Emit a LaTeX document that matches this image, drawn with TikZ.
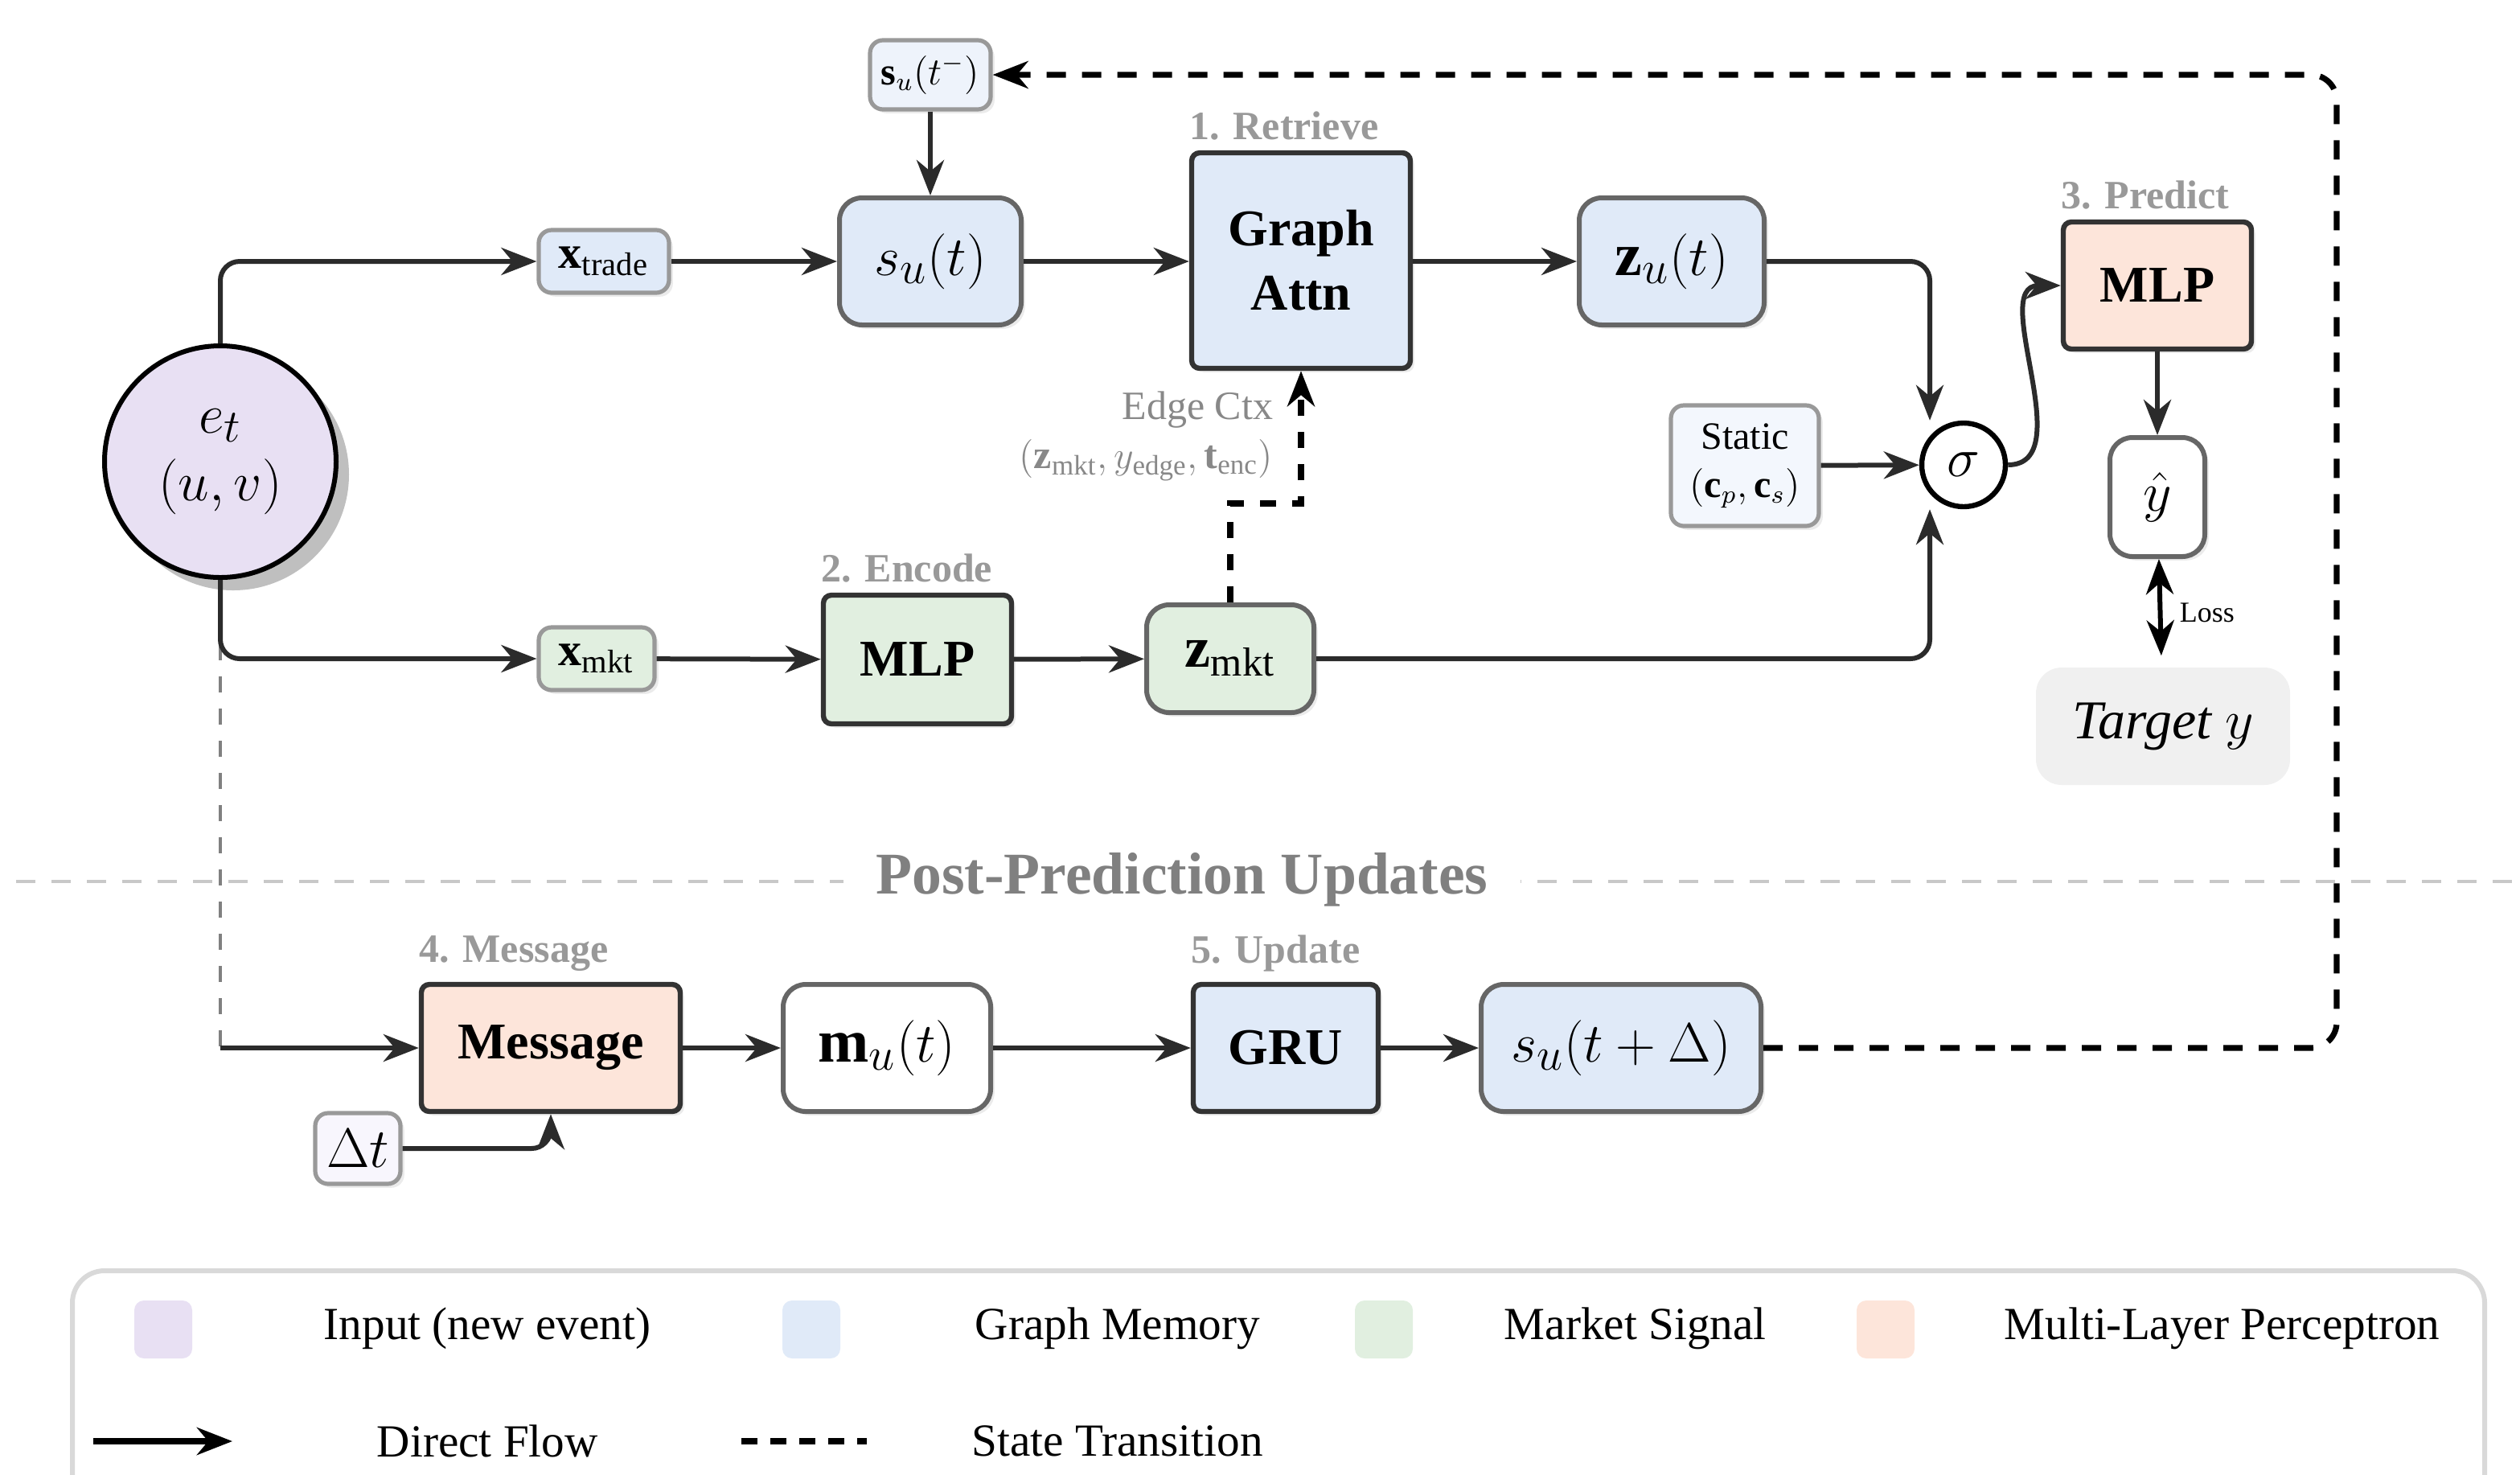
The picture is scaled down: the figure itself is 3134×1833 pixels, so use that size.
\documentclass[tikz,border=0pt]{standalone}
\usepackage{amsmath}
\usepackage{fontspec}
\setmainfont{Liberation Serif}
\usepackage{tikz}
\usetikzlibrary{arrows.meta,shadows,calc}
\usepackage{xcolor}
\definecolor{evpurple}{HTML}{E8E0F3}
\definecolor{memblue}{HTML}{E0EAF8}
\definecolor{paleblue}{HTML}{EEF3FB}
\definecolor{staticblue}{HTML}{F3F7FD}
\definecolor{mktgreen}{HTML}{E1EFE0}
\definecolor{mlppeach}{HTML}{FDE5DA}
\definecolor{dtlilac}{HTML}{F8F6FD}
\definecolor{edgedark}{HTML}{333333}
\definecolor{edgemid}{HTML}{666666}
\definecolor{edgelight}{HTML}{999999}
\definecolor{labelgray}{HTML}{999999}
\definecolor{ctxgray}{HTML}{888888}
\definecolor{sepgray}{HTML}{C8C8C8}
\definecolor{septext}{HTML}{808080}
\definecolor{targetgray}{HTML}{F0F0F0}
\definecolor{legendgray}{HTML}{D9D9D9}
\definecolor{arrowdark}{HTML}{2B2B2B}
\tikzset{
  tip/.style={-{Stealth[length=11pt, width=8.5pt, inset=3.5pt]}},
  softshadow/.style={drop shadow={shadow xshift=1.2pt, shadow yshift=-1.2pt, opacity=0.08, fill=black}},
  opbox/.style={draw=edgedark, line width=1.6pt, rounded corners=2.5pt, inner sep=0pt, align=center, font=\fontsize{16}{20}\selectfont\bfseries, softshadow},
  statebox/.style={draw=edgemid, line width=1.5pt, rounded corners=7pt, inner sep=0pt, font=\fontsize{19}{22}\selectfont, softshadow},
  featbox/.style={draw=edgelight, line width=1.3pt, rounded corners=4pt, inner sep=0pt, font=\fontsize{14.5}{16}\selectfont, softshadow},
  stagelabel/.style={text=labelgray, font=\fontsize{12.5}{14}\selectfont\bfseries, anchor=south west, yshift=3pt, inner sep=0pt},
  flow/.style={draw=arrowdark, line width=1.5pt, tip, rounded corners=6pt},
  statelink/.style={draw=black, line width=1.8pt, dash pattern=on 6pt off 5pt, tip, rounded corners=8pt},
  ctxlink/.style={draw=black, line width=1.8pt, dash pattern=on 5pt off 5pt, tip},
  skipline/.style={draw=septext, line width=1pt, dash pattern=on 5pt off 5pt},
  sepline/.style={draw=sepgray, line width=1.2pt, dash pattern=on 6pt off 5pt},
  ctxtext/.style={text=ctxgray, anchor=east, inner sep=0pt, font=\fontsize{12.5}{14}\selectfont},
  legswatch/.style={minimum size=18pt, rounded corners=3pt, inner sep=0pt},
  legtext/.style={anchor=west, inner sep=0pt, font=\fontsize{14.3}{16}\selectfont},
}
\begin{document}
\begin{tikzpicture}[x=0.25pt, y=-0.25pt]
  \useasboundingbox (0,0) rectangle (3134,1833);
  % input event
  \node[circle, draw=black, line width=1.5pt, fill=evpurple, minimum size=72pt, inner sep=0pt,
        align=center, font=\fontsize{19}{21}\selectfont,
        drop shadow={shadow xshift=4pt, shadow yshift=-4pt, fill=black!25, opacity=1}]
        (et) at (274,574) {$e_t$\\$(u,v)$};
  % upper branch: memory and retrieval
  \node[featbox, fill=memblue, minimum width=40.5pt, minimum height=19.5pt] (xtrade) at (751,325) {$\mathbf{x}_{\mathrm{trade}}$};
  \node[featbox, fill=paleblue, minimum width=37.5pt, minimum height=21.5pt, font=\fontsize{12}{14}\selectfont] (suprev) at (1157,93) {$\mathbf{s}_u(t^-)$};
  \node[statebox, fill=memblue, minimum width=56.5pt, minimum height=39.5pt] (sunow) at (1157,325) {$s_u(t)$};
  \node[opbox, fill=memblue, minimum width=68pt, minimum height=67pt] (attn) at (1618,324) {Graph\\Attn};
  \node[stagelabel] (lblretrieve) at (attn.north west) {1. Retrieve};
  \node[statebox, fill=memblue, minimum width=57.5pt, minimum height=39.5pt] (zu) at (2079,325) {$\mathbf{z}_u(t)$};
  % fusion and prediction
  \node[featbox, fill=staticblue, minimum width=46pt, minimum height=37.5pt, align=center, font=\fontsize{12}{15}\selectfont] (static) at (2170,579) {Static\\$(\mathbf{c}_p,\mathbf{c}_s)$};
  \node[circle, draw=black, line width=1.6pt, fill=white, minimum size=26pt, inner sep=0pt, font=\fontsize{19}{22}\selectfont] (sigma) at (2442,578) {$\sigma$};
  \node[opbox, fill=mlppeach, minimum width=58.5pt, minimum height=39.5pt] (mlpout) at (2683,355) {MLP};
  \node[stagelabel] (lblpredict) at (mlpout.north west) {3. Predict};
  \node[statebox, fill=white, minimum width=29.5pt, minimum height=37pt] (yhat) at (2683,618) {$\hat{y}$};
  \node[fill=targetgray, rounded corners=8pt, minimum width=79pt, minimum height=36.5pt, inner sep=0pt, font=\fontsize{17}{20}\selectfont\itshape] (target) at (2690,903) {Target $y$};
  % lower branch: market signal
  \node[featbox, fill=mktgreen, minimum width=36pt, minimum height=19.5pt] (xmkt) at (742,819) {$\mathbf{x}_{\mathrm{mkt}}$};
  \node[opbox, fill=mktgreen, minimum width=58.5pt, minimum height=40pt] (mlpenc) at (1141,820) {MLP};
  \node[stagelabel] (lblencode) at (mlpenc.north west) {2. Encode};
  \node[statebox, fill=mktgreen, minimum width=52pt, minimum height=33.5pt, font=\fontsize{18}{20}\selectfont] (zmkt) at (1530,819) {$\mathbf{z}_{\mathrm{mkt}}$};
  \node[ctxtext] (ctxlabel) at (1584,510) {Edge Ctx};
  \node[ctxtext] (ctxtuple) at (1584,572) {$(\mathbf{z}_{\mathrm{mkt}},y_{\mathrm{edge}},\mathbf{t}_{\mathrm{enc}})$};
  % post-prediction updates
  \node[opbox, fill=mlppeach, minimum width=80.5pt, minimum height=39.5pt] (msg) at (685,1303) {Message};
  \node[stagelabel] (lblmessage) at (msg.north west) {4. Message};
  \node[featbox, fill=dtlilac, minimum width=26.5pt, minimum height=22pt, font=\fontsize{16}{18}\selectfont] (dt) at (445,1428) {$\Delta t$};
  \node[statebox, fill=white, minimum width=64.5pt, minimum height=39.5pt] (mu) at (1103,1303) {$\mathbf{m}_u(t)$};
  \node[opbox, fill=memblue, minimum width=57.5pt, minimum height=39.5pt] (gru) at (1599,1303) {GRU};
  \node[stagelabel] (lblupdate) at (gru.north west) {5. Update};
  \node[statebox, fill=memblue, minimum width=87pt, minimum height=39.5pt] (sunext) at (2016,1303) {$s_u(t+\Delta)$};
  % separator
  \coordinate (sepL) at (20,1096);
  \coordinate (sepR) at (3134,1096);
  \draw[sepline] (sepL) -- (sepR);
  \node[fill=white, inner xsep=10pt, inner ysep=2pt, text=septext, font=\fontsize{18.4}{20}\selectfont\bfseries] (septitle) at (1470,1094) {Post-Prediction Updates};
  % connectors
  \coordinate (msgbend) at (et.south |- msg.west);
  \draw[skipline] (et.south) -- (msgbend);
  \draw[flow] (msgbend) -- (msg.west);
  \draw[flow] (et.north) |- (xtrade.west);
  \draw[flow] (et.south) |- (xmkt.west);
  \draw[flow] (xtrade) -- (sunow);
  \draw[flow] (suprev) -- (sunow);
  \draw[flow] (sunow.east) -- (attn.west |- sunow.east);
  \draw[flow] (attn.east |- zu.west) -- (zu.west);
  \draw[flow] (xmkt) -- (mlpenc);
  \draw[flow] (mlpenc) -- (zmkt);
  \coordinate (ctxmid) at (1574,626);
  \draw[ctxlink] (zmkt.north) |- (ctxmid) -| (attn.south);
  \draw[flow] (zu.east) -| ([xshift=-10.5pt]sigma.north);
  \draw[flow] (zmkt.east) -| ([xshift=-10.5pt]sigma.south);
  \draw[flow] (static) -- (sigma);
  \draw[flow] (sigma.east) to[out=0, in=180] (mlpout.west);
  \draw[flow] (mlpout) -- (yhat);
  \draw[draw=black, line width=1.5pt, {Stealth[length=11pt, width=8.5pt, inset=3.5pt]}-{Stealth[length=11pt, width=8.5pt, inset=3.5pt]}, shorten >=3.5pt]
    (yhat) -- (target) node[midway, right, xshift=2pt, font=\fontsize{9}{10}\selectfont] (losslabel) {Loss};
  \draw[flow] (dt.east) -| (msg.south);
  \draw[flow] (msg) -- (mu);
  \draw[flow] (mu) -- (gru);
  \draw[flow] (gru) -- (sunext);
  \coordinate (retcorner) at (2906,93);
  \draw[statelink] (sunext.east) -| (retcorner) -- (suprev.east);
  % legend
  \draw[legendgray, line width=1.5pt, rounded corners=10pt] (90,1580) rectangle (3090,1900);
  \node[legswatch, fill=evpurple] (swinput) at (203,1653) {};
  \node[legtext] (txinput) at (402,1652) {Input (new event)};
  \node[legswatch, fill=memblue] (swmemory) at (1009,1653) {};
  \node[legtext] (txmemory) at (1212,1652) {Graph Memory};
  \node[legswatch, fill=mktgreen] (swmarket) at (1721,1653) {};
  \node[legtext] (txmarket) at (1870,1652) {Market Signal};
  \node[legswatch, fill=mlppeach] (swmlp) at (2345,1653) {};
  \node[legtext] (txmlp) at (2492,1652) {Multi-Layer Perceptron};
  \coordinate (legflowA) at (116,1792);
  \coordinate (legflowB) at (289,1792);
  \draw[black, line width=2pt, tip] (legflowA) -- (legflowB);
  \node[legtext] (txflow) at (468,1792) {Direct Flow};
  \coordinate (legdashA) at (922,1792);
  \coordinate (legdashB) at (1078,1792);
  \draw[black, line width=2pt, dash pattern=on 5pt off 4pt] (legdashA) -- (legdashB);
  \node[legtext] (txstate) at (1208,1792) {State Transition};
\end{tikzpicture}
\end{document}
